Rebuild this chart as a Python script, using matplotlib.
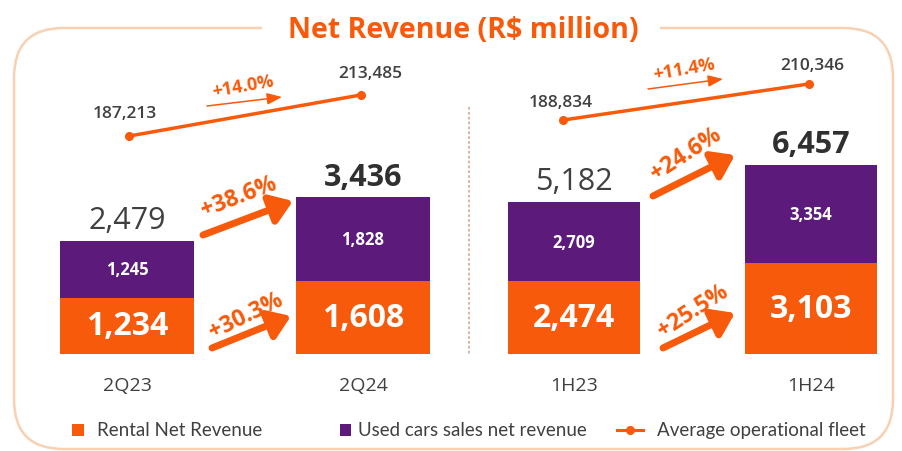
import matplotlib
matplotlib.use("Agg")
import matplotlib.pyplot as plt
from matplotlib.patches import FancyBboxPatch, Rectangle, FancyArrowPatch
from matplotlib.lines import Line2D

# ---------------- data ----------------
left_periods = ["2Q23", "2Q24"]
left_rental = [1234, 1608]
left_used = [1245, 1828]
left_total = [2479, 3436]
left_fleet = [187213, 213485]

right_periods = ["1H23", "1H24"]
right_rental = [2474, 3103]
right_used = [2709, 3354]
right_total = [5182, 6457]
right_fleet = [188834, 210346]

growth_total = ["+38.6%", "+24.6%"]
growth_rental = ["+30.3%", "+25.5%"]
growth_fleet = ["+14.0%", "+11.4%"]

legend_labels = ["Rental Net Revenue", "Used cars sales net revenue", "Average operational fleet"]
title = "Net Revenue (R$ million)"

ORANGE = "#F75A0A"
PURPLE = "#5C1A7A"
GRAY = "#404040"
BORDER = "#F8D0B2"

W, H = 902, 452
fig = plt.figure(figsize=(W / 100, H / 100), dpi=100)
fig.patch.set_facecolor("white")
FONT = "Open Sans"


def fx(px):
    return px / W


def fy(py):
    return 1 - py / H


def pax(x0, x1, y0, y1):
    return fig.add_axes([fx(x0), fy(y1), fx(x1) - fx(x0), (y1 - y0) / H])


# background frame
frame = FancyBboxPatch((fx(14), fy(450)), fx(879), (450 - 29) / H,
                       boxstyle="round,pad=0,rounding_size=0.055",
                       transform=fig.transFigure, fill=False,
                       edgecolor=BORDER, linewidth=1.8, mutation_aspect=2.0)
fig.add_artist(frame)
fig.add_artist(Rectangle((fx(262), fy(48)), fx(398), 36 / H, transform=fig.transFigure,
                         facecolor="white", edgecolor="none"))
fig.text(fx(463), fy(31), title, ha="center", va="center", fontsize=20.5,
         fontweight="bold", color=ORANGE, family=FONT)

# divider
fig.add_artist(Line2D([fx(469), fx(469)], [fy(108), fy(356)], transform=fig.transFigure,
                      color="#D9AE9C", linestyle=(0, (1.5, 1.2)), linewidth=1.3))

PAN_TOP, PAN_BOT = 60, 355


def panel(x0, x1, c0, c1, width_px, scale, fleet_vals, fleet_px, periods,
          rental, used, total, bold_pattern):
    ax = pax(x0, x1, PAN_TOP, PAN_BOT)
    ppu = c1 - c0
    ax.set_xlim(-(c0 - x0) / ppu, (x1 - c0) / ppu)
    hpx = PAN_BOT - PAN_TOP
    ax.set_ylim(0, hpx / scale)
    xs = [0, 1]
    w = width_px / ppu
    ax.bar(xs, rental, width=w, color=ORANGE, edgecolor="none", zorder=2)
    ax.bar(xs, used, width=w, bottom=rental, color=PURPLE, edgecolor="none", zorder=2)
    for i, x in enumerate(xs):
        ax.text(x, rental[i] / 2, f"{rental[i]:,}", ha="center", va="center",
                fontsize=23, fontweight="bold", color="white", family=FONT)
        ax.text(x, rental[i] + used[i] / 2, f"{used[i]:,}", ha="center", va="center",
                fontsize=12, fontweight="bold", color="white", family=FONT)
        ax.annotate(f"{total[i]:,}", (x, total[i]), xytext=(0, 4), textcoords="offset points",
                    ha="center", va="bottom", fontsize=22,
                    fontweight="bold" if bold_pattern[i] else "normal",
                    color=GRAY if not bold_pattern[i] else "#303030", family=FONT)
        ax.annotate(periods[i], (x, 0), xytext=(0, -31), textcoords="offset pixels",
                    ha="center", va="center", fontsize=14, color=GRAY, family=FONT)
    ax.axis("off")
    ax2 = ax.twinx()
    (fv0, py0), (fv1, py1) = (fleet_vals[0], fleet_px[0]), (fleet_vals[1], fleet_px[1])
    fppu = (py0 - py1) / (fv1 - fv0)
    ax2.set_ylim(fv0 - (PAN_BOT - py0) / fppu, fv0 + (py0 - PAN_TOP) / fppu)
    return ax, ax2


axL, axL2 = panel(20, 460, 127, 363, 134, 113 / 2479, left_fleet, [137, 96],
                  left_periods, left_rental, left_used, left_total, [False, True])
axR, axR2 = panel(475, 895, 574, 811, 132, 152 / 5182, right_fleet, [121, 85],
                  right_periods, right_rental, right_used, right_total, [False, True])

fleet_x_left = [0.01, 0.99]
fleet_x_right = [-0.045, 0.99]
for ax2, fx_, vals, offs in [(axL2, fleet_x_left, left_fleet, [(-5, 23), (10, 22)]),
                             (axR2, fleet_x_right, right_fleet, [(-3, 18), (4, 19)])]:
    ax2.plot(fx_, vals, color=ORANGE, linewidth=2.5, marker="o", markersize=5.5, zorder=3,
             solid_capstyle="round")
    for x, v, o in zip(fx_, vals, offs):
        ax2.annotate(f"{v:,}", (x, v), xytext=o, textcoords="offset pixels",
                     ha="center", va="center", fontsize=12.5, fontweight="semibold",
                     color=GRAY, family=FONT)
    ax2.axis("off")


def growth_arrow(p0, p1, lw, head):
    fig.add_artist(FancyArrowPatch(
        (fx(p0[0]), fy(p0[1])), (fx(p1[0]), fy(p1[1])), transform=fig.transFigure,
        arrowstyle=f"-|>,head_length={head[0]},head_width={head[1]}",
        color=ORANGE, linewidth=lw, mutation_scale=10, shrinkA=0, shrinkB=0))


growth_arrow((203, 236), (293, 202), 5, (1.3, 0.9))
growth_arrow((212, 349), (291, 317), 5, (1.3, 0.9))
growth_arrow((653, 197), (735, 156), 5, (1.3, 0.9))
growth_arrow((663, 349), (735, 314), 5, (1.3, 0.9))
growth_arrow((207, 107), (282, 98), 1.1, (0.9, 0.35))
growth_arrow((648, 90), (723, 80), 1.1, (0.9, 0.35))

txt = dict(ha="center", va="center", color=ORANGE, fontweight="bold", family=FONT,
           transform=fig.transFigure, rotation_mode="anchor")
fig.text(fx(239), fy(197), growth_total[0], fontsize=16.5, rotation=21, **txt)
fig.text(fx(246), fy(316), growth_rental[0], fontsize=16.5, rotation=26, **txt)
fig.text(fx(686), fy(154), growth_total[1], fontsize=16.5, rotation=33, **txt)
fig.text(fx(693), fy(311), growth_rental[1], fontsize=16.5, rotation=33, **txt)
fig.text(fx(243), fy(87), growth_fleet[0], fontsize=13, rotation=10, **txt)
fig.text(fx(684), fy(70), growth_fleet[1], fontsize=13, rotation=10, **txt)

# legend
lg = dict(fontsize=13.5, color=GRAY, va="center", ha="left", family="Lato",
          transform=fig.transFigure)
fig.add_artist(Rectangle((fx(72), fy(437)), fx(12), 12 / H, transform=fig.transFigure,
                         facecolor=ORANGE, edgecolor="none"))
fig.text(fx(97), fy(431), legend_labels[0], **lg)
fig.add_artist(Rectangle((fx(340), fy(437)), fx(11), 12 / H, transform=fig.transFigure,
                         facecolor=PURPLE, edgecolor="none"))
fig.text(fx(358), fy(431), legend_labels[1], **lg)
fig.add_artist(Line2D([fx(617), fx(643)], [fy(431), fy(431)], transform=fig.transFigure,
                      color=ORANGE, linewidth=2.2))
fig.add_artist(Line2D([fx(630)], [fy(431)], transform=fig.transFigure,
                      color=ORANGE, marker="o", markersize=5.5))
fig.text(fx(657), fy(431), legend_labels[2], **lg)

fig.savefig("out.png", dpi=100, facecolor="white")
